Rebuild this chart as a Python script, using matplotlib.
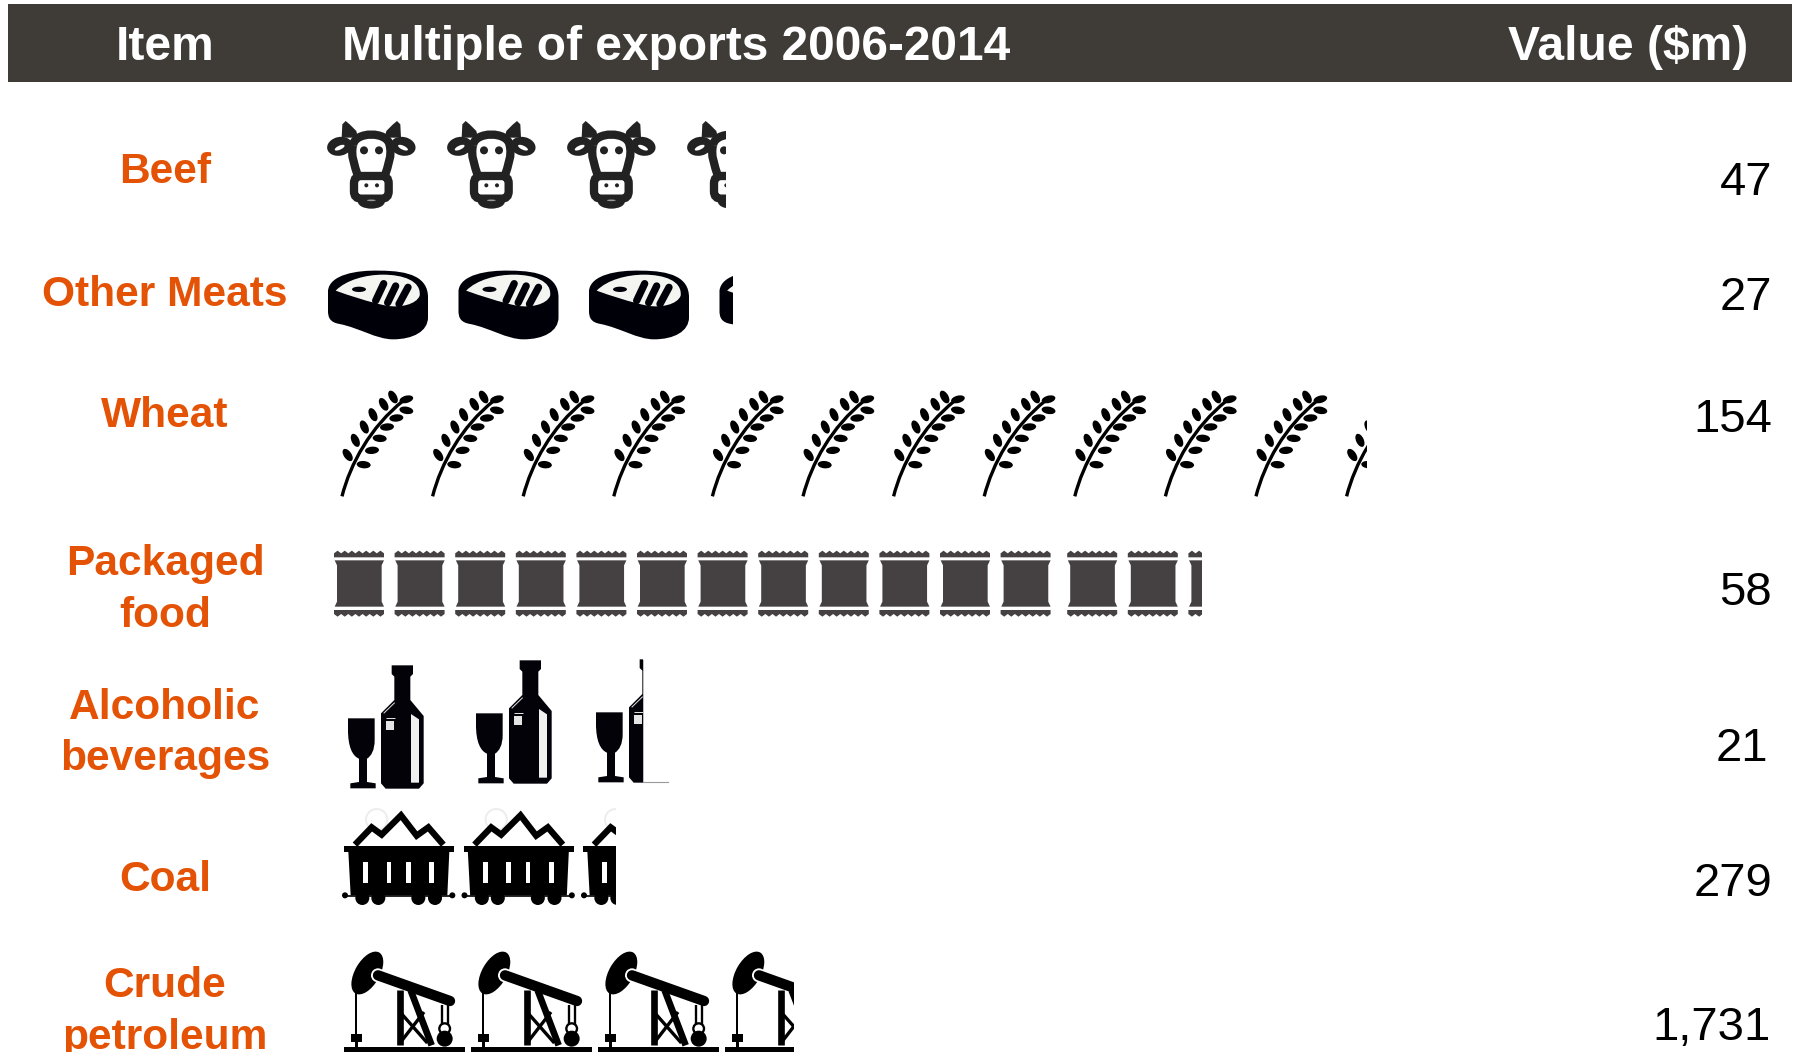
import matplotlib
matplotlib.use("Agg")
import matplotlib.pyplot as plt
import numpy as np
from matplotlib.patches import Circle, Ellipse, FancyBboxPatch, PathPatch, Polygon, Rectangle
from matplotlib.path import Path
from matplotlib.transforms import Affine2D

# data
items = ["Beef", "Other Meats", "Wheat", "Packaged\nfood", "Alcoholic\nbeverages", "Coal", "Crude\npetroleum"]
multiples = [3.32, 3.10, 11.24, 14.22, 2.38, 2.28, 3.54]
values = ["47", "27", "154", "58", "21", "279", "1,731"]
headers = ["Item", "Multiple of exports 2006-2014", "Value ($m)"]

# layout, in pixels of the 1801x1052 picture
icon_x = [328, 328, 341, 334, 348, 344, 344]
icon_y = [121, 270, 391, 550, 665, 813, 952]
pitch = [120, 130.5, 90.6, 60.6, 124, 119.5, 127]
jump_at = [None, None, 4, 12, None, None, None]
jump_px = [0, 0, 8, 6, 0, 0, 0]
label_base = [[183], [306], [427], [575, 627], [719, 770], [891], [997, 1049]]
value_base = [195, 310, 432, 605, 761, 896, 1040]
value_right = [1772, 1772, 1772, 1772, 1768, 1772, 1771]
wine_dx = [0, 4, 0]
wine_dy = [0, -5, -6]

ORANGE = "#E35205"
HEADER = "#3F3B37"
FONT = "Liberation Sans"


class Icon:
    """Draws shapes given in 3x zoomed pixels, relative to the icon's top left."""

    def __init__(self, ax, x, y, ox, oy, clip):
        self.ax = ax
        self.t = Affine2D().translate(-ox, -oy).scale(1 / 3).translate(x, y) + ax.transData
        self.clip = clip

    def add(self, p):
        p.set_transform(self.t)
        self.ax.add_patch(p)
        p.set_clip_path(self.clip)
        return p

    def poly(self, pts, c="black", **kw):
        return self.add(Polygon(pts, closed=True, fc=c, ec="none", **kw))

    def rect(self, x0, y0, x1, y1, c="black"):
        return self.add(Rectangle((x0, y0), x1 - x0, y1 - y0, fc=c, ec="none"))

    def circle(self, x, y, r, c="black", ec="none", lw=0):
        return self.add(Circle((x, y), r, fc=c, ec=ec, lw=lw * 0.24))

    def ell(self, x, y, w, h, angle=0, c="black"):
        return self.add(Ellipse((x, y), w, h, angle=angle, fc=c, ec="none"))

    def line(self, pts, lw, c="black", cap="butt"):
        codes = [Path.MOVETO] + [Path.LINETO] * (len(pts) - 1)
        return self.add(PathPatch(Path(pts, codes), fc="none", ec=c, lw=lw * 0.24, capstyle=cap, joinstyle="miter"))

    def curve(self, start, segs, c="black", ec="none", lw=0, cap="butt"):
        verts = [start]
        codes = [Path.MOVETO]
        for s in segs:
            verts += s
            codes += [Path.CURVE4] * 3 if len(s) == 3 else [Path.LINETO]
        return self.add(PathPatch(Path(verts, codes), fc=c, ec=ec, lw=lw * 0.24, capstyle=cap))


def cow(ic):
    k = "#222222"
    for m in (1, -1):
        fx = lambda v: v if m == 1 else 310 - v
        ic.poly([(fx(66), 112), (fx(68), 72), (fx(78), 62), (fx(90), 72), (fx(110), 92), (fx(115), 112)], k)
        ic.ell(fx(60), 138, 76, 56, -12 * m, k)
        ic.ell(fx(60), 142, 32, 12, -25 * m, "white")
    ic.curve((100, 135), [[(105, 92), (205, 92), (210, 135)], [(218, 165), (205, 195), (195, 228)],
                          [(115, 228)], [(105, 195), (92, 165), (100, 135)]], "white", k, 25)
    ic.add(FancyBboxPatch((103, 227), 104, 68, boxstyle="round,pad=0,rounding_size=22", fc="white", ec=k, lw=25 * 0.24))
    ic.ell(155, 305, 80, 40, 0, k)
    ic.ell(155, 300, 26, 5, 0, "#999999")
    ic.circle(133, 150, 12, k)
    ic.circle(178, 150, 12, k)
    ic.circle(140, 255, 6, k)
    ic.circle(172, 255, 6, k)


def steak(ic):
    k = "#000008"
    ic.curve((25, 570), [[(30, 522), (110, 508), (180, 510)], [(270, 510), (325, 530), (325, 590)], [(325, 650)],
                         [(325, 692), (280, 716), (220, 716)], [(170, 716), (120, 682), (60, 670)],
                         [(30, 665), (25, 650), (25, 630)], [(25, 570)]], k)
    ic.curve((48, 570), [[(80, 537), (140, 522), (190, 522)], [(250, 522), (305, 540), (300, 585)],
                         [(290, 612), (240, 622), (200, 615)], [(150, 605), (90, 585), (48, 570)]], "#F4F4F0")
    ic.ell(118, 566, 42, 16, 0, k)
    ic.line([(192, 549), (168, 600)], 22, k, "round")
    ic.line([(228, 556), (204, 606)], 22, k, "round")
    ic.line([(265, 560), (238, 610)], 22, k, "round")


def wheat(ic):
    ic.curve((65, 348), [[(90, 250), (150, 140), (250, 60)]], "none", "black", 10)
    for x, y, a in [(218, 50, 60), (190, 72, 60), (158, 103, 65), (132, 140, 65), (105, 180, 65), (82, 224, 55)]:
        ic.ell(x, y, 42, 23, a)
    for x, y, a in [(258, 57, -15), (258, 90, 10), (228, 113, -5), (200, 140, -5), (178, 174, 5), (155, 210, -5),
                    (130, 253, 5)]:
        ic.ell(x, y, 42, 22, a)


def packet(ic):
    k = "#454142"
    xs = np.linspace(40, 190, 15)
    top = [(x, 512 if i % 2 else 520) for i, x in enumerate(xs)]
    bot = [(x, 710 if i % 2 else 702) for i, x in enumerate(xs)]
    ic.poly(top + [(190, 532), (40, 532)], k)
    ic.poly([(40, 690), (190, 690)] + bot[::-1], k)
    ic.poly([(42, 541), (190, 541), (183, 556), (183, 665), (190, 680), (42, 680), (49, 665), (49, 556)], k)


def wine(ic):
    k = "#020208"
    ic.curve((85, 205), [[(165, 205)], [(165, 270)], [(165, 300), (155, 318), (142, 326)], [(142, 396)], [(168, 400)],
                         [(168, 415)], [(92, 415)], [(92, 400)], [(118, 396)], [(118, 326)],
                         [(98, 318), (85, 290), (85, 240)], [(85, 205)]], k)
    ic.poly([(216, 46), (280, 46), (280, 72), (272, 80), (272, 150), (312, 198), (312, 400), (298, 416), (198, 416),
             (184, 400), (184, 190), (224, 150), (224, 80), (216, 72)], k)
    ic.poly([(274, 192), (298, 208), (298, 398), (274, 398)], "#F0F0F0")
    ic.rect(198, 212, 222, 240, "#E4E4E4")
    ic.line([(192, 190), (225, 158)], 3, "#DDDDDD")
    ic.line([(198, 205), (225, 205)], 3, "#DDDDDD")


def coal(ic):
    ic.circle(170, 510, 32, "white", "#EDEDED", 6)
    ic.line([(105, 585), (155, 533), (185, 555), (243, 497), (290, 558), (325, 533), (370, 585)], 19)
    ic.rect(72, 588, 402, 606)
    ic.poly([(85, 605), (388, 605), (382, 737), (92, 737)])
    for x in (130, 200, 258, 328):
        ic.rect(x, 636, x + 14, 700, "white")
    for x in (127, 175, 295, 345):
        ic.circle(x, 745, 21)
    ic.line([(75, 738), (397, 738)], 5)
    ic.circle(75, 737, 9)
    ic.circle(397, 737, 9)


def pump(ic):
    ic.line([(108, 1020), (108, 1150)], 6)
    ic.rect(92, 1150, 125, 1175)
    ic.rect(104, 1175, 114, 1192)
    ic.line([(241, 1020), (241, 1185)], 20)
    ic.line([(272, 1020), (335, 1185)], 20)
    ic.line([(240, 1178), (312, 1085)], 10)
    ic.line([(240, 1085), (322, 1178)], 10)
    ic.ell(142, 968, 142, 74, -60)
    ic.circle(174, 975, 21, "white")
    ic.line([(174, 975), (390, 1052)], 31, cap="round")
    ic.line([(365, 1065), (365, 1125)], 7)
    ic.line([(383, 1065), (383, 1125)], 7)
    ic.circle(374, 1135, 16, "white", "black", 7)
    ic.circle(374, 1165, 24)
    ic.rect(72, 1190, 435, 1204)


drawers = [(cow, 25, 62), (steak, 25, 508), (wheat, 62, 32), (packet, 40, 510), (wine, 85, 45), (coal, 72, 490),
           (pump, 72, 905)]

fig = plt.figure(figsize=(18.01, 10.52), dpi=100)
ax = fig.add_axes([0, 0, 1, 1])
ax.set_xlim(0, 1801)
ax.set_ylim(1052, 0)
ax.axis("off")

ax.add_patch(Rectangle((8, 4), 1784, 78, fc=HEADER, ec="none"))
ax.text(165, 60, headers[0], color="white", fontsize=34.6, fontweight="bold", family=FONT, ha="center", va="baseline")
ax.text(342, 60, headers[1], color="white", fontsize=34.5, fontweight="bold", family=FONT, ha="left", va="baseline")
ax.text(1748, 60, headers[2], color="white", fontsize=34.6, fontweight="bold", family=FONT, ha="right", va="baseline")

for r, item in enumerate(items):
    for line, base in zip(item.split("\n"), label_base[r]):
        ax.text(165, base, line, color=ORANGE, fontsize=30.6, fontweight="bold", family=FONT, ha="center",
                va="baseline")
    ax.text(value_right[r], value_base[r], values[r], color="black", fontsize=34, family=FONT, ha="right",
            va="baseline")

    draw, ox, oy = drawers[r]
    whole = int(np.floor(multiples[r]))
    lefts = [icon_x[r] + i * pitch[r] + (jump_px[r] if jump_at[r] is not None and i >= jump_at[r] else 0)
             for i in range(whole + 1)]
    clip_x = lefts[whole] + (multiples[r] - whole) * pitch[r]
    clip = Rectangle((0, 0), clip_x, 1052, transform=ax.transData)
    for i, left in enumerate(lefts):
        y = icon_y[r]
        if draw is wine:
            left += wine_dx[i]
            y += wine_dy[i]
        draw(Icon(ax, left, y, ox, oy, clip))
    if draw is wine:
        ax.plot([clip_x, clip_x], [660, 782], color="#BBBBBB", lw=0.7)
        ax.plot([clip_x, clip_x + 25], [782, 782], color="#999999", lw=0.8)

fig.savefig("out.png", dpi=100, facecolor="white")
